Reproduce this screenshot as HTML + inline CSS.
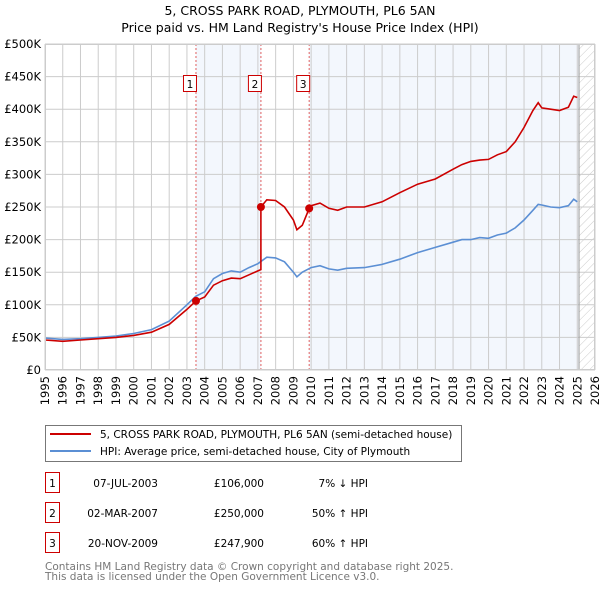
<!DOCTYPE html>
<html><head><meta charset="utf-8"><style>
body{margin:0;background:#fff;width:600px;height:590px;overflow:hidden;font-family:"DejaVu Sans","Liberation Sans",sans-serif;}
svg text{font-family:"DejaVu Sans","Liberation Sans",sans-serif;}
</style></head><body>
<svg id="chart" width="600" height="590">
<defs><pattern id="hatch" width="6" height="6" patternUnits="userSpaceOnUse" patternTransform="rotate(45)"><line x1="0" y1="0" x2="0" y2="6" stroke="#ccc" stroke-width="1"/></pattern></defs>
<text x="300" y="15" text-anchor="middle" font-size="12.5">5, CROSS PARK ROAD, PLYMOUTH, PL6 5AN</text>
<text x="300" y="32" text-anchor="middle" font-size="12.5">Price paid vs. HM Land Registry's House Price Index (HPI)</text>
<g id="plot"></g>
<g>
<rect x="45.5" y="425.5" width="416" height="36" fill="#fff" stroke="#777"/>
<line x1="50" y1="434" x2="91" y2="434" stroke="#cc0000" stroke-width="2"/>
<text x="100" y="438" font-size="10.5">5, CROSS PARK ROAD, PLYMOUTH, PL6 5AN (semi-detached house)</text>
<line x1="50" y1="451" x2="91" y2="451" stroke="#5b8fd4" stroke-width="2"/>
<text x="100" y="455" font-size="10.5">HPI: Average price, semi-detached house, City of Plymouth</text>
</g>
<g id="table" font-size="10.5"></g>
<text x="45" y="570" font-size="10.5" fill="#777">Contains HM Land Registry data © Crown copyright and database right 2025.</text>
<text x="45" y="580" font-size="10.5" fill="#777">This data is licensed under the Open Government Licence v3.0.</text>
</svg>
<script>
const hpiYears=[1995,1996,1997,1998,1999,2000,2001,2002,2003,2003.5,2004,2004.5,2005,2005.5,2006,2006.5,2007,2007.5,2008,2008.5,2009,2009.2,2009.5,2010,2010.5,2011,2011.5,2012,2013,2014,2015,2016,2017,2018,2018.5,2019,2019.5,2020,2020.5,2021,2021.5,2022,2022.5,2022.8,2023,2023.5,2024,2024.5,2024.8,2025];
const hpiValues=[49,47,48,50,52,56,62,75,100,113,120,140,148,152,150,157,163,173,172,166,150,143,150,157,160,155,153,156,157,162,170,180,188,196,200,200,203,202,207,210,218,230,245,254,253,250,249,252,262,258];
const redYears=[1995,1996,1997,1998,1999,2000,2001,2002,2003,2003.51,2004,2004.5,2005,2005.5,2006,2006.5,2007,2007.17,2007.17,2007.5,2008,2008.5,2009,2009.2,2009.5,2009.89,2010,2010.5,2011,2011.5,2012,2013,2014,2015,2016,2017,2018,2018.5,2019,2019.5,2020,2020.5,2021,2021.5,2022,2022.5,2022.8,2023,2023.5,2024,2024.5,2024.8,2025];
const redValues=[46,44,46,48,50,53,58,70,93,106,112,130,137,141,140,146,152,154,250,261,260,250,230,215,222,247.9,252,256,248,245,250,250,258,272,285,293,308,315,320,322,323,330,335,350,372,398,410,402,400,398,403,420,418];
const saleYears=[2003.51,2007.17,2009.89];
const saleValues=[106,250,247.9];
const saleLabels=["1","2","3"];
const saleDates=["07-JUL-2003","02-MAR-2007","20-NOV-2009"];
const salePrices=["£106,000","£250,000","£247,900"];
const saleHpi=["7% ↓ HPI","50% ↑ HPI","60% ↑ HPI"];
const yTicks=[0,50,100,150,200,250,300,350,400,450,500];
const yTickLabels=["£0","£50K","£100K","£150K","£200K","£250K","£300K","£350K","£400K","£450K","£500K"];
const xTicks=[1995,1996,1997,1998,1999,2000,2001,2002,2003,2004,2005,2006,2007,2008,2009,2010,2011,2012,2013,2014,2015,2016,2017,2018,2019,2020,2021,2022,2023,2024,2025,2026];

const NS="http://www.w3.org/2000/svg";
const X0=45,X1=595,Y0=370,Y1=44;
const xs=y=>X0+(y-1995)/(2026-1995)*(X1-X0);
const ys=v=>Y0-v/500*(Y0-Y1);
const plot=document.getElementById('plot');
function mk(tag,attrs,parent){const e=document.createElementNS(NS,tag);for(const k in attrs)e.setAttribute(k,attrs[k]);(parent||plot).appendChild(e);return e;}
let e;
e=mk('rect',{x:X0,y:Y1,width:X1-X0,height:Y0-Y1,fill:'#fff'});


e=mk('rect',{x:xs(saleYears[0]),y:Y1,width:xs(saleYears[1])-xs(saleYears[0]),height:Y0-Y1,fill:'#eef3fc',opacity:0.7});


e=mk('rect',{x:xs(saleYears[2]),y:Y1,width:xs(2025.1)-xs(saleYears[2]),height:Y0-Y1,fill:'#eef3fc',opacity:0.7});


e=mk('rect',{x:xs(2025.1),y:Y1,width:X1-xs(2025.1),height:Y0-Y1,fill:'url(#hatch)'});


yTicks.forEach((t,i)=>{
 e=mk('line',{x1:X0,x2:X1,y1:ys(t),y2:ys(t),stroke:'#ccc','stroke-width':1});
 
 
 e=mk('text',{x:X0-4,y:ys(t)+4,'text-anchor':'end','font-size':11.5});
 e.textContent=yTickLabels[i];
 
 
});
xTicks.forEach(t=>{
 e=mk('line',{x1:xs(t),x2:xs(t),y1:Y1,y2:Y0,stroke:'#ccc','stroke-width':1});
 
 
 e=mk('text',{x:0,y:0,'text-anchor':'end','font-size':11.5,transform:`translate(${xs(t)+4},${Y0+6}) rotate(-90)`});
 e.textContent=t;
 
 
});
e=mk('line',{x1:xs(2025.1),x2:xs(2025.1),y1:Y1,y2:Y0,stroke:'#999','stroke-width':1});


saleYears.forEach((y,i)=>{
 e=mk('line',{x1:xs(y),x2:xs(y),y1:Y1,y2:Y0,stroke:'#e06060','stroke-width':1,'stroke-dasharray':'2,2'});
 
 
 const bx=xs(y)-12;
 e=mk('rect',{x:bx-0.5,y:75.5,width:13,height:16,fill:'#fff',stroke:'#cc0000'});
 
 
 e=mk('text',{x:bx+6,y:88,'text-anchor':'middle','font-size':10.5});
 e.textContent=saleLabels[i];
 
 
});
const path=(xa,va)=>xa.map((y,i)=>(i?'L':'M')+xs(y).toFixed(1)+','+ys(va[i]).toFixed(1)).join('');
e=mk('path',{d:path(hpiYears,hpiValues),fill:'none',stroke:'#5b8fd4','stroke-width':1.6});


e=mk('path',{d:path(redYears,redValues),fill:'none',stroke:'#cc0000','stroke-width':1.6});


saleYears.forEach((y,i)=>{
 e=mk('circle',{cx:xs(y),cy:ys(saleValues[i]),r:4,fill:'#cc0000'});
 
 
});
e=mk('rect',{x:X0+0.5,y:Y1+0.5,width:X1-X0-1,height:Y0-Y1-1,fill:'none',stroke:'#ccc'});


const tbl=document.getElementById('table');
saleLabels.forEach((l,i)=>{
 const cy=483+i*30;
 e=mk('rect',{x:45.5,y:cy-10.5,width:14,height:20,fill:'#fff',stroke:'#cc0000'},tbl);
 
 
 e=mk('text',{x:52.5,y:cy+4,'text-anchor':'middle'},tbl);e.textContent=l;
 
 
 e=mk('text',{x:158,y:cy+4,'text-anchor':'end'},tbl);e.textContent=saleDates[i];
 
 
 e=mk('text',{x:264,y:cy+4,'text-anchor':'end'},tbl);e.textContent=salePrices[i];
 
 
 e=mk('text',{x:368,y:cy+4,'text-anchor':'end'},tbl);e.textContent=saleHpi[i];
 
 
});
</script>
</body></html>
